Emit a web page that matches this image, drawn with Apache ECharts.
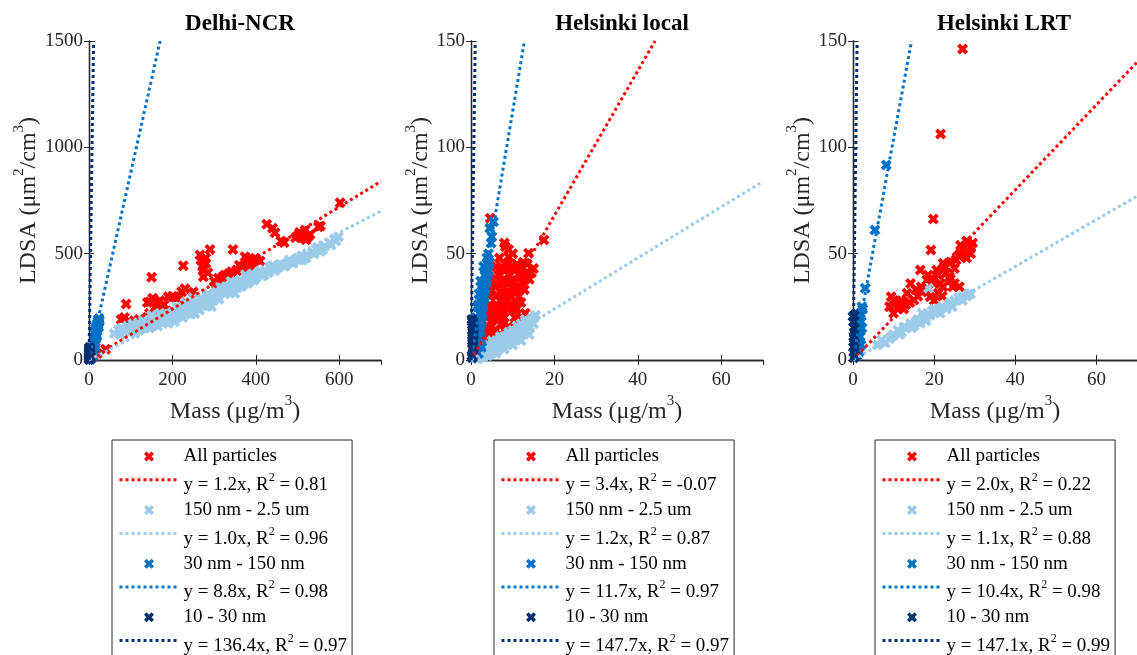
<!DOCTYPE html>
<html>
<head>
<meta charset="utf-8">
<script src="https://cdn.jsdelivr.net/npm/echarts@6/dist/echarts.min.js"></script>
<style>
  html, body { margin: 0; padding: 0; background: #fff; }
  #chart { width: 1137px; height: 655px; }
</style>
</head>
<body>
<div id="chart"></div>
<script>
// panels and groups
var panelTitles = ['Delhi-NCR', 'Helsinki local', 'Helsinki LRT'];
var groupNames = ['All particles', '150 nm - 2.5 um', '30 nm - 150 nm', '10 - 30 nm'];
var groupColors = ['#ff0000', '#9ccbea', '#0072c6', '#00306f'];

// axis ranges / ticks
var xMax = [700, 70, 70];
var xStep = [200, 20, 20];
var yMax = [1500, 150, 150];
var yStep = [500, 50, 50];

// fit lines from the legend
var fitSlopes = [[1.2, 1.0, 8.8, 136.4], [3.4, 1.2, 11.7, 147.7], [2.0, 1.1, 10.4, 147.1]];
var fitR2 = [['0.81', '0.96', '0.98', '0.97'], ['-0.07', '0.87', '0.97', '0.97'], ['0.22', '0.88', '0.98', '0.99']];

// Delhi-NCR
var delhiAll = [[602,740],[426,638],[446,598],[468,553],[502,588],[518,611],[550,627],[512,575],[530,590],[520,565],
  [345,520],[290,520],[266,494],[274,423],[274,392],[280,455],[226,443],[150,389],[89,263],[77,191],[102,172],[95,185],
  [146,274],[153,290],[165,227],[160,250],[190,298],[222,321],[218,297],[230,335],[310,384],[306,354],[342,415],[366,439],
  [386,462],[398,478],[378,430],[355,420],[390,450],[400,470],[374,486],[390,470],[354,423],[326,400],[140,200],[180,260],
  [250,320],[120,190],[200,230],[260,270],[330,330],[20,30],[10,15],[40,50],[320,390],[335,405],[360,445],[380,455],
  [395,440],[410,465],[300,370],[315,360],[268,470],[280,480],[285,410],[272,440],[140,270],[170,280],[200,300],[210,290],
  [145,220],[160,210],[175,240],[505,600],[525,580],[515,595],[460,560],[440,620],[555,630],[495,575],[110,180],[85,200]];
var delhiFine = [[70,141],[78,150],[85,130],[92,160],[100,145],[105,170],[112,155],[118,175],[125,160],[130,185],[135,150],
  [140,170],[148,190],[155,165],[160,200],[168,180],[175,195],[180,215],[188,175],[195,205],[200,225],[208,195],[215,230],
  [220,210],[228,245],[235,225],[240,260],[248,235],[255,270],[262,250],[270,290],[275,265],[282,300],[290,270],[300,295],
  [305,320],[312,285],[318,330],[325,310],[332,345],[340,320],[348,360],[355,340],[362,375],[370,355],[378,390],[385,370],
  [392,405],[400,385],[410,420],[420,400],[432,435],[445,420],[458,450],[470,440],[480,470],[490,455],[500,480],[512,470],
  [522,495],[535,505],[545,520],[555,510],[565,535],[578,550],[588,570],[598,580],[592,560],[60,125],[110,125],[190,172],
  [254,219],[294,251],[350,313],[75,120],[95,135],[120,140],[145,150],[165,160],[185,190],[205,180],[225,200],[245,215],
  [265,235],[285,255],[298,280],[310,300],[330,325],[345,335],[365,345],[380,360],[395,375],[415,395],[430,410],[450,430],
  [465,445],[485,460],[505,470],[520,480],[540,500],[560,520],[580,540],[150,210],[170,220],[210,250],[230,270],[250,290],
  [285,310],[315,345],[340,370],[375,400],[405,410],[440,445],[475,455],[510,490],[548,530]];
var delhiMid = [[3,8],[5,20],[6,35],[8,50],[9,30],[10,65],[11,45],[12,80],[13,95],[12,60],[14,110],[15,85],[15,125],[16,100],
  [17,140],[16,150],[18,120],[18,160],[19,135],[20,170],[20,150],[21,180],[22,165],[22,190],[23,175],[24,195],[25,185],
  [19,110],[14,70],[10,20],[7,10],[4,3],[21,160],[23,155],[17,130],[13,75],[11,55],[9,40]];
var delhiUltra = [[0.2,2],[0.4,6],[0.6,10],[0.3,14],[0.5,18],[0.8,22],[0.4,26],[0.7,30],[1,34],[0.5,38],[0.9,42],[1.2,46],
  [0.6,50],[1,55],[1.4,60],[0.3,4],[0.9,12],[1.1,28],[1.5,52],[0.7,44],[2,8],[3,16],[2.5,30],[4,12]];

// Helsinki local
var localAll = [[4.6,66.6],[17.5,56.4],[13.8,50.2],[8.2,53.3],[9,48.6],[15,43],[7.4,43.9],[6.6,40],[9.8,37.6],[12.2,39],
  [5.8,34.5],[10.2,33],[8.2,28.2],[13,22],[5,25],[6.5,18.8],[4.2,12.5],[3.5,9.4],[9,15.7],[11,45],[14,38],[12.5,46],
  [10.5,42],[7,35],[8.5,32],[11.5,30],[6,30],[7.5,24],[9.5,25],[10.5,20],[6,14],[5,20],[4,16],[7,12],[8,20],[11.5,35],
  [13.5,41],[12,27],[3,6],[2.5,4],[5.5,8],[6.8,48],[8.8,44],[10,50],[7.8,38],[4.5,30],[5.5,22],[9.2,31],[3.8,20],[8,55],
  [9,52],[11,24],[12.8,33],[6.2,26],[7.2,17],[3.5,14],[4,22],[4.5,26],[5,16],[5.5,12],[6,20],[6.5,24],[7,28],[7.5,31],
  [8,34],[8.5,37],[9,40],[9.5,43],[10,36],[10.5,28],[11,32],[11.5,40],[12,43],[12.5,36],[13,38],[13.5,45],[14.5,41],
  [6,36],[7,40],[8,42],[9,46],[7,20],[8,25],[9,28],[10,24],[11,18],[12,20],[6.5,10],[8,14],[5,33],[4.8,38],[6,44]];
var localFine = [[1,1],[2,2],[3,3],[4,4],[5,5],[6,6],[7,8],[8,9],[9,10],[10,12],[11,13],[12,15],[13,16],[14,18],[15,20],
  [2,4],[3,5],[4,6],[5,7],[6,9],[7,6],[8,7],[9,12],[10,9],[11,14],[12,12],[13,19],[14,15],[15.5,21],[1.5,0.5],[3,1.5],
  [5,3],[7,10],[4,7],[2.5,6],[6,4],[8,11],[10,14],[12,17],[13,13],[9,8],[11,10],[2,1],[4,2],[6,3],[8,5],[10,7],[12,9],
  [14,12],[3,7],[5,9],[7,11],[9,13],[11,16],[13,18],[15,17],[4,3],[6,7],[8,8],[10,10],[12,13],[14,16]];
var localMid = [[5.4,65],[5,58],[4.5,62],[4.2,50],[3.8,48],[3,44],[3.3,40],[2.3,37],[2.8,34],[1.9,31],[2.2,28],[1.5,25],
  [2,22],[1.2,20],[1.6,18],[1,15],[1.3,12],[0.8,10],[1.1,8],[0.7,6],[0.9,4],[0.5,2],[2.5,30],[3.5,42],[4,46],[1.8,26],
  [2.6,35],[1.4,16],[4.8,55],[2.4,10],[2.2,14],[2.6,18],[2.8,22],[3,26],[3.2,30],[3.5,34],[3.8,38],[4.2,42],[1.8,8],
  [2,12],[2.2,16],[2.5,20],[2.8,25],[3.1,29],[3.4,36],[4,40],[4.4,46],[1.5,5],[1.8,3],[2.6,6]];
var localUltra = [[0.3,1],[0.5,3],[0.4,5],[0.6,7],[0.3,9],[0.5,11],[0.4,13],[0.6,15],[0.5,17],[0.3,18],[0.2,2],[0.7,4],
  [0.4,8],[0.6,12],[0.5,16],[0.3,14],[0.5,6],[0.4,10],[0.2,19],[0.6,18.5]];

// Helsinki LRT
var lrtAll = [[27,146.2],[21.6,106.3],[19.8,66.3],[19.2,51.7],[29,53.3],[27.8,50.2],[25.4,47],[22.2,45.5],[20.6,42.3],
  [16.6,42.3],[23.8,39.2],[18.2,37.6],[14.2,36],[22.2,34.5],[24.6,34.5],[13.3,31.4],[9.4,29.8],[9,25],[11.8,26.6],[15,28.2],
  [19,29.8],[21,31.4],[26.2,34.5],[16.8,34.5],[10.6,27.4],[12.5,24],[10,22],[14,27],[17,32],[20,36],[23,41],[25,43],[28,48],
  [29.5,55],[28,56],[26,49],[24,46],[21,40],[18,33],[16,30],[20,28],[22,30],[12,28],[11,24],[15.5,33],[18.5,40],[27,52],
  [29,50],[26.5,54],[22.5,44],[10,28],[13,26],[24,38],[25,36],[19.5,38],[21.5,36]];
var lrtFine = [[18.6,33.7],[7,9.4],[11,14.1],[14.2,17.2],[17.4,20.4],[20.6,22.7],[23.8,26.6],[27,29.8],[28.5,31],[8,8],
  [16.6,17.2],[9,10],[10,12],[12,13],[13,15],[15,16],[16,19],[18,20],[19,21],[21,24],[22,25],[24,27],[25,28],[26,29],
  [28,30],[29,31],[19.5,23],[23,24],[17,22],[20,24],[12.5,15.5],[9.5,11],[11.5,12],[14.5,15],[18,18.5],[21.5,22],
  [24.5,25],[27,28],[6,7],[15.5,18]];
var lrtMid = [[8.2,91.7],[5.4,61.1],[3,33.7],[2.2,25],[1.4,20],[1.8,22],[2,18],[1.2,16],[1.5,14],[1,12],[1.3,10],[0.8,8],
  [1.1,6],[0.6,4],[0.9,2],[2.4,24],[1.6,19],[1.9,21],[0.7,9],[1.4,13],[2.2,15],[1.8,11],[2,7],[1.6,4]];
var lrtUltra = [[0,20.4],[0.3,21],[0.3,13],[0.2,11],[0.4,8],[0.1,6],[0.3,4],[0.5,2],[0.2,1],[0.4,15],[0.1,18],[0.3,10]];

var panelData = [
  [delhiAll, delhiFine, delhiMid, delhiUltra],
  [localAll, localFine, localMid, localUltra],
  [lrtAll, lrtFine, lrtMid, lrtUltra]
];

var gridLeft = [89, 471, 853];
var legendLeft = [112, 494, 875];
var yNameGap = [39, 31, 33];
var font = 'Liberation Serif';
var ink = '#262626';
var crossPath = 'path://M0,2.5 L2.5,0 L5,2.5 L7.5,0 L10,2.5 L7.5,5 L10,7.5 L7.5,10 L5,7.5 L2.5,10 L0,7.5 L2.5,5 Z';

function fitName(p, g) {
  return 'y = ' + fitSlopes[p][g].toFixed(1) + 'x, R^2 = ' + fitR2[p][g];
}

var nameRich = {
  s: { fontSize: 15, fontFamily: font, color: ink, padding: [0, 0, 20, 0] }
};

var grids = [], xAxes = [], yAxes = [], titles = [], legends = [], series = [];

for (var p = 0; p < 3; p++) {
  grids.push({ left: gridLeft[p], top: 41, width: 292, height: 319 });
  titles.push({
    text: panelTitles[p], left: gridLeft[p] + 146, top: 8, textAlign: 'center',
    textStyle: { fontFamily: font, fontWeight: 'bold', fontSize: 23, color: '#000' }
  });
  var axLine = { show: true, lineStyle: { color: ink, width: 1.3 } };
  var axTick = { show: true, inside: true, length: 5, lineStyle: { color: ink, width: 1 } };
  xAxes.push({
    gridIndex: p, type: 'value', position: 'bottom', min: 0, max: xMax[p], interval: xStep[p],
    axisLine: axLine, axisTick: axTick, splitLine: { show: false },
    axisLabel: { fontFamily: font, fontSize: 19, color: ink, margin: 11, showMaxLabel: false },
    name: 'Mass (μg/m{s|3})', nameLocation: 'middle', nameGap: 34,
    nameTextStyle: { fontFamily: font, fontSize: 24, color: ink, rich: nameRich }
  });
  xAxes.push({
    gridIndex: p, type: 'value', position: 'top', min: 0, max: xMax[p], interval: xStep[p],
    axisLine: axLine, axisTick: axTick, splitLine: { show: false }, axisLabel: { show: false }
  });
  yAxes.push({
    gridIndex: p, type: 'value', position: 'left', min: 0, max: yMax[p], interval: yStep[p],
    axisLine: axLine, axisTick: axTick, splitLine: { show: false },
    axisLabel: { fontFamily: font, fontSize: 19, color: ink, margin: 6,
      formatter: function (v) { return String(v); } },
    name: 'LDSA (μm{s|2}/cm{s|3})', nameLocation: 'middle', nameGap: yNameGap[p],
    nameTextStyle: { fontFamily: font, fontSize: 24, color: ink, rich: nameRich }
  });
  yAxes.push({
    gridIndex: p, type: 'value', position: 'right', min: 0, max: yMax[p], interval: yStep[p],
    axisLine: axLine, axisTick: axTick, splitLine: { show: false }, axisLabel: { show: false }
  });

  var legendItems = [];
  for (var g = 0; g < 4; g++) {
    series.push({
      name: groupNames[g], type: 'scatter', xAxisIndex: p * 2, yAxisIndex: p * 2,
      symbol: crossPath, symbolSize: 11, itemStyle: { color: groupColors[g], opacity: 1 },
      data: panelData[p][g]
    });
    var slope = fitSlopes[p][g];
    var xEnd = Math.min(xMax[p], yMax[p] / slope);
    series.push({
      name: fitName(p, g), type: 'line', xAxisIndex: p * 2, yAxisIndex: p * 2,
      symbol: 'none', showSymbol: false, clip: true,
      lineStyle: { color: groupColors[g], width: 3, type: [3, 3] },
      itemStyle: { color: groupColors[g] },
      data: [[0, 0], [xEnd, slope * xEnd]]
    });
    legendItems.push({ name: groupNames[g] });
    legendItems.push({ name: fitName(p, g), itemStyle: { opacity: 0 }, lineStyle: { width: 3 } });
  }

  legends.push({
    data: legendItems, orient: 'vertical', left: legendLeft[p], top: 440, height: 260,
    padding: [7, 5, 5, 6], itemGap: 5.8, itemWidth: 59, itemHeight: 10,
    selectedMode: false, borderColor: ink, borderWidth: 1, backgroundColor: '#fff',
    formatter: function (name) {
      if (name.indexOf('R^2') < 0) return name;
      var parts = name.split('^2');
      return '{n|' + parts[0] + '}{s|2}{n|' + parts[1] + '}';
    },
    textStyle: {
      fontFamily: font, fontSize: 19, color: '#000',
      rich: {
        n: { fontFamily: font, fontSize: 19, color: '#000', lineHeight: 20, verticalAlign: 'bottom' },
        s: { fontFamily: font, fontSize: 12, color: '#000', padding: [7, 0, 11, 0] }
      }
    }
  });
}

var chart = echarts.init(document.getElementById('chart'));
chart.setOption({
  animation: false,
  backgroundColor: '#fff',
  title: titles,
  grid: grids,
  xAxis: xAxes,
  yAxis: yAxes,
  legend: legends,
  series: series
});
</script>
</body>
</html>
